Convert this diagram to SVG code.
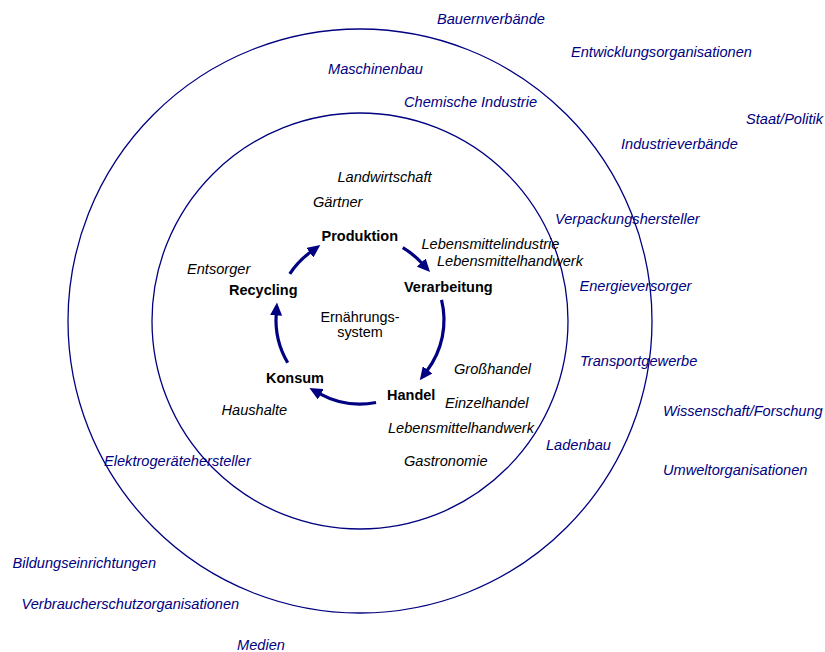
<svg xmlns="http://www.w3.org/2000/svg" width="825" height="652" viewBox="0 0 825 652">
<style>
text{font-family:"Liberation Sans",Arial,sans-serif;font-size:14.6px}
.o{fill:#000080;font-style:italic}
.i{fill:#000;font-style:italic}
.b{fill:#000;font-weight:bold;font-size:14.5px}
.c{fill:#000;font-size:14.4px;text-anchor:middle}
.ring{fill:none;stroke:#000080;stroke-width:1.3}
.arr{fill:none;stroke:#000080;stroke-width:3.2;marker-end:url(#ah)}
</style>
<defs>
<marker id="ah" markerUnits="userSpaceOnUse" markerWidth="13" markerHeight="12" viewBox="0 0 13 12" refX="1" refY="6" orient="auto">
<path d="M0,0 L13,6 L0,12 z" fill="#000080"/>
</marker>
</defs>
<g id="rings">
<circle id="outer-ring" class="ring" cx="360" cy="321" r="292"/>
<circle id="inner-ring" class="ring" cx="360" cy="321" r="208"/>
</g>
<g id="connectors">
<path class="arr" d="M289.79,273.88 A84,84 0 0 1 310.63,252.04"/>
<path class="arr" d="M402.76,247.70 A84,84 0 0 1 421.93,263.25"/>
<path class="arr" d="M441.54,299.82 A84,84 0 0 1 427.0,370.67"/>
<path class="arr" d="M376.03,402.46 A84,84 0 0 1 319.92,393.82"/>
<path class="arr" d="M287.70,362.76 A84,84 0 0 1 276.19,314.43"/>
</g>
<g id="center"><text class="c" x="360" y="321.5">Ernährungs-</text><text class="c" x="360" y="336.5">system</text></g>
<g id="produktion"><text class="b" x="321.5" y="241">Produktion</text></g>
<g id="verarbeitung"><text class="b" x="404" y="292">Verarbeitung</text></g>
<g id="handel"><text class="b" x="387" y="399.5">Handel</text></g>
<g id="konsum"><text class="b" x="266" y="382.5">Konsum</text></g>
<g id="recycling"><text class="b" x="229" y="294.5">Recycling</text></g>
<g id="inner-actors">
<text class="i" x="337.5" y="182">Landwirtschaft</text>
<text class="i" x="313" y="207">Gärtner</text>
<text class="i" x="421.5" y="248.5">Lebensmittelindustrie</text>
<text class="i" x="437" y="265.5">Lebensmittelhandwerk</text>
<text class="i" x="187" y="273.5">Entsorger</text>
<text class="i" x="454" y="373.5">Großhandel</text>
<text class="i" x="445" y="408">Einzelhandel</text>
<text class="i" x="221.5" y="414.5">Haushalte</text>
<text class="i" x="388" y="433">Lebensmittelhandwerk</text>
<text class="i" x="404" y="466">Gastronomie</text>
</g>
<g id="outer-actors">
<text class="o" x="437" y="23.5">Bauernverbände</text>
<text class="o" x="571" y="56.5">Entwicklungsorganisationen</text>
<text class="o" x="328" y="74">Maschinenbau</text>
<text class="o" x="404" y="107">Chemische Industrie</text>
<text class="o" x="746" y="124">Staat/Politik</text>
<text class="o" x="621" y="148.5">Industrieverbände</text>
<text class="o" x="555" y="223.5">Verpackungshersteller</text>
<text class="o" x="579.5" y="291">Energieversorger</text>
<text class="o" x="580" y="366">Transportgewerbe</text>
<text class="o" x="663" y="416">Wissenschaft/Forschung</text>
<text class="o" x="546" y="450">Ladenbau</text>
<text class="o" x="104" y="466">Elektrogerätehersteller</text>
<text class="o" x="663" y="475">Umweltorganisationen</text>
<text class="o" x="12.5" y="567.5">Bildungseinrichtungen</text>
<text class="o" x="21.5" y="608.5">Verbraucherschutzorganisationen</text>
<text class="o" x="237" y="649.5">Medien</text>
</g>
</svg>
